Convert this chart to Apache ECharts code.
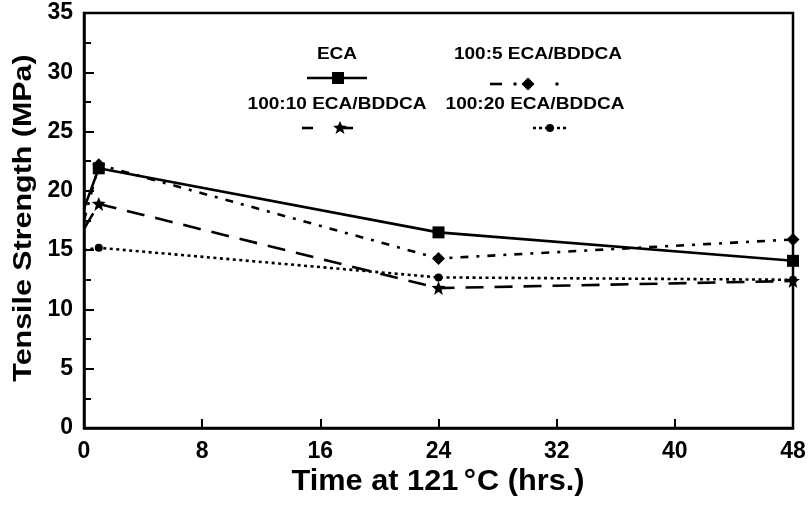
<!DOCTYPE html>
<html>
<head>
<meta charset="utf-8">
<script src="https://cdn.jsdelivr.net/npm/echarts@6/dist/echarts.min.js"></script>
<style>
  html, body { margin: 0; padding: 0; background: #fff; }
  #chart { width: 809px; height: 507px; }
</style>
</head>
<body>
<div id="chart"></div>
<script>
// hours at 121 C
const hours = [0, 1, 24, 48]
const eca = [18.5, 21.9, 16.5, 14.1]
const eca5 = [17.5, 22.2, 14.3, 15.9]
const eca10 = [16.8, 18.9, 11.8, 12.4]
const eca20 = [15.0, 15.2, 12.7, 12.5]
const xTicks = [0, 8, 16, 24, 32, 40, 48]
const yTicks = [0, 5, 10, 15, 20, 25, 30, 35]

const starPath = 'path://M0,-10 L2.6,-3.6 L10,-3.2 L4.2,1.4 L6.2,9 L0,4.6 L-6.2,9 L-4.2,1.4 L-10,-3.2 L-2.6,-3.6 Z'
const font = 'Liberation Sans, Arial, sans-serif'

// the t=0 readings sit on the axis with no visible marker
const pairs = (ys) =>
  hours.map((h, i) => (h === 0 ? { value: [h, ys[i]], symbol: 'none' } : [h, ys[i]]))

const chart = echarts.init(document.getElementById('chart'))

const makeSeries = (name, ys, symbol, size, dash) => ({
  type: 'line',
  name: name,
  data: pairs(ys),
  symbol: symbol,
  symbolSize: size,
  showAllSymbol: true,
  lineStyle: { color: '#000', width: 2.6, type: dash },
  itemStyle: { color: '#000' },
})

const legendText = (label, x, y) => ({
  type: 'text', x: x, y: y, scaleX: 1.12,
  style: { text: label, font: 'bold 17px ' + font, fill: '#000', align: 'center', verticalAlign: 'middle' },
})

const option = {
  animation: false,
  grid: { left: 84, right: 16, top: 13, bottom: 79, show: true, borderColor: '#000', borderWidth: 2.5 },
  xAxis: {
    type: 'value', min: 0, max: 48, interval: 8,
    axisLine: { lineStyle: { color: '#000', width: 2.5 } },
    axisTick: { inside: true, length: 9, lineStyle: { color: '#000', width: 2 } },
    axisLabel: {
      fontFamily: font, fontWeight: 'bold', fontSize: 23, color: '#000', margin: 12,
      formatter: (v) => (xTicks.includes(v) ? String(v) : ''),
    },
    splitLine: { show: false },
  },
  yAxis: {
    type: 'value', min: 0, max: 35, interval: 5,
    axisLine: { lineStyle: { color: '#000', width: 2.5 } },
    axisTick: { inside: true, length: 10, lineStyle: { color: '#000', width: 2 } },
    minorTick: { show: true, splitNumber: 2, length: 7, lineStyle: { color: '#000', width: 2 } },
    axisLabel: {
      fontFamily: font, fontWeight: 'bold', fontSize: 23, color: '#000', margin: 11,
      formatter: (v) => (yTicks.includes(v) ? String(v) : ''),
    },
    splitLine: { show: false },
  },
  series: [
    makeSeries('ECA', eca, 'rect', 12, 'solid'),
    makeSeries('100:5 ECA/BDDCA', eca5, 'diamond', 13, [8, 8, 3, 8]),
    makeSeries('100:10 ECA/BDDCA', eca10, starPath, 14, [18, 11]),
    makeSeries('100:20 ECA/BDDCA', eca20, 'circle', 8, [3, 3.5]),
  ],
  graphic: [
    // axis titles
    {
      type: 'text', x: 438, y: 482, scaleX: 1.06,
      style: {
        text: 'Time at 121{sup|°}C (hrs.)', font: 'bold 29px ' + font, fill: '#000',
        align: 'center', verticalAlign: 'middle',
        rich: { sup: { font: 'bold 29px ' + font, fill: '#000', padding: [0, 1, 0, 5] } },
      },
    },
    {
      type: 'text', x: 24, y: 218, rotation: Math.PI / 2, scaleX: 1.17,
      style: { text: 'Tensile Strength (MPa)', font: 'bold 26px ' + font, fill: '#000', align: 'center', verticalAlign: 'middle' },
    },

    // legend
    legendText('ECA', 337, 54),
    { type: 'line', shape: { x1: 307, y1: 78, x2: 367, y2: 78 }, style: { stroke: '#000', lineWidth: 2.6 } },
    { type: 'rect', shape: { x: 332, y: 72, width: 12, height: 12 }, style: { fill: '#000' } },

    legendText('100:5 ECA/BDDCA', 538, 54),
    { type: 'line', shape: { x1: 490, y1: 84, x2: 502, y2: 84 }, style: { stroke: '#000', lineWidth: 2.6 } },
    { type: 'circle', shape: { cx: 515, cy: 84, r: 1.8 }, style: { fill: '#000' } },
    { type: 'polygon', shape: { points: [[528, 77.5], [534.5, 84], [528, 90.5], [521.5, 84]] }, style: { fill: '#000' } },
    { type: 'circle', shape: { cx: 557, cy: 84, r: 1.8 }, style: { fill: '#000' } },

    legendText('100:10 ECA/BDDCA', 337, 104),
    { type: 'line', shape: { x1: 302, y1: 128, x2: 313, y2: 128 }, style: { stroke: '#000', lineWidth: 2.6 } },
    { type: 'line', shape: { x1: 340, y1: 128, x2: 353, y2: 128 }, style: { stroke: '#000', lineWidth: 2.6 } },
    { type: 'polygon', shape: { points: [[340, 121], [342, 125.5], [347, 126], [343, 129], [344.5, 134], [340, 131], [335.5, 134], [337, 129], [333, 126], [338, 125.5]] }, style: { fill: '#000' } },

    legendText('100:20 ECA/BDDCA', 535, 104),
    { type: 'line', shape: { x1: 533, y1: 128, x2: 567, y2: 128 }, style: { stroke: '#000', lineWidth: 2.6, lineDash: [3, 3] } },
    { type: 'circle', shape: { cx: 550, cy: 128, r: 4 }, style: { fill: '#000' } },
  ],
}

chart.setOption(option)
</script>
</body>
</html>
